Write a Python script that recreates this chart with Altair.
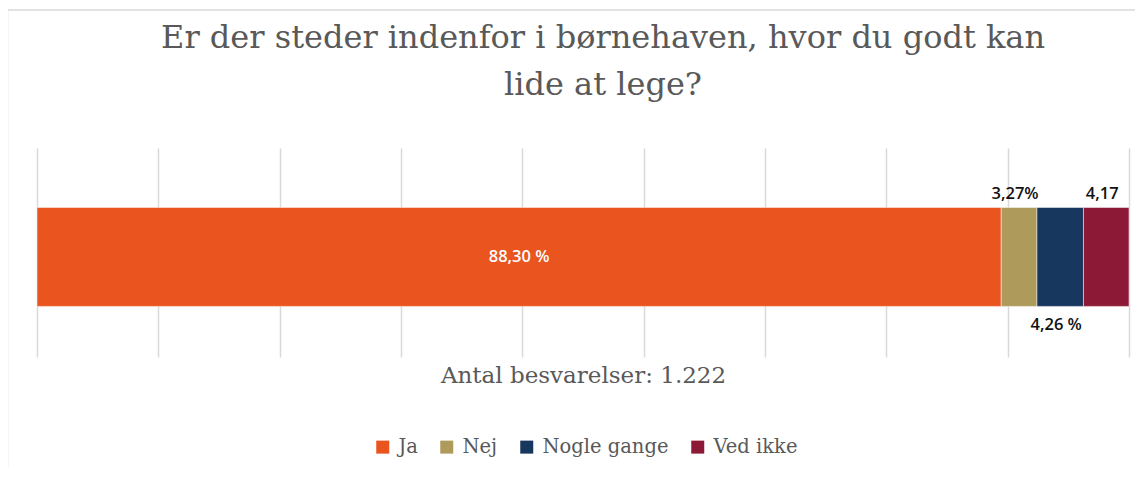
import altair as alt
import pandas as pd

categories = ["Ja", "Nej", "Nogle gange", "Ved ikke"]
values = [88.30, 3.27, 4.26, 4.17]
labels = ["88,30 %", "3,27%", "4,26 %", "4,17"]
label_pos = ["inside", "above", "below", "above"]
colors = ["#E9541F", "#AE9A5A", "#17375E", "#8C1A37"]
grid_values = [i / 9 for i in range(10)]

df = pd.DataFrame({"cat": categories, "value": values, "label": labels, "pos": label_pos})
df["q"] = "Q"
df["end"] = df["value"].cumsum() / 100.0
df["start"] = df["end"] - df["value"] / 100.0
df["mid"] = (df["start"] + df["end"]) / 2

SERIF = "DejaVu Serif"
SANS = "Open Sans"
GRAY = "#595959"

xscale = alt.Scale(domain=[0, 1], nice=False, zero=False)
yscale = alt.Scale(paddingInner=0, paddingOuter=0.556, align=0.54)

base = alt.Chart(df)

bars = base.mark_bar(stroke="white", strokeWidth=0.5).encode(
    x=alt.X("start:Q", scale=xscale,
            axis=alt.Axis(values=grid_values, labels=False, ticks=False, domain=False,
                          grid=True, gridColor="#d9d9d9", gridWidth=1.5,
                          title="Antal besvarelser: 1.222", titleFont=SERIF,
                          titleFontSize=23, titleFontWeight="normal", titleColor=GRAY,
                          titlePadding=7)),
    x2="end:Q",
    y=alt.Y("q:N", scale=yscale, axis=None),
    color=alt.Color("cat:N", scale=alt.Scale(domain=categories, range=colors),
                    sort=categories,
                    legend=alt.Legend(title=None, orient="none", direction="horizontal",
                                      legendX=336, legendY=289,
                                      symbolType="square", symbolSize=169,
                                      symbolStrokeWidth=0, labelFont=SERIF,
                                      labelFontSize=19.5, labelColor=GRAY,
                                      labelOffset=6, columnPadding=19, padding=0)),
)

txt = dict(font=SANS, fontSize=16.5, fontWeight=600)

inside = base.transform_filter(alt.datum.pos == "inside").mark_text(
    color="white", **txt
).encode(x=alt.X("mid:Q", scale=xscale), y=alt.Y("q:N", scale=yscale), text="label:N")

above = base.transform_filter(alt.datum.pos == "above").mark_text(
    color="#111111", dy=-63, dx=-4, **txt
).encode(x=alt.X("mid:Q", scale=xscale), y=alt.Y("q:N", scale=yscale), text="label:N")

below = base.transform_filter(alt.datum.pos == "below").mark_text(
    color="#111111", dy=68, dx=-4, **txt
).encode(x=alt.X("mid:Q", scale=xscale), y=alt.Y("q:N", scale=yscale), text="label:N")

frame_left = alt.Chart(pd.DataFrame({"a": [0]})).mark_rule(color="#d9d9d9", strokeWidth=1.5).encode(
    x=alt.value(-29.5), y=alt.value(-138), y2=alt.value(330))
frame_top = alt.Chart(pd.DataFrame({"a": [0]})).mark_rule(color="#d9d9d9", strokeWidth=1.5).encode(
    x=alt.value(-29.5), x2=alt.value(1200), y=alt.value(-138))

chart = alt.layer(frame_left, frame_top, bars, inside, above, below).properties(
    width=1092, height=209,
    autosize=alt.AutoSizeParams(type="none"),
    padding={"left": 29, "top": 140, "right": 6, "bottom": 110},
    title=alt.TitleParams(
        text=["Er der steder indenfor i børnehaven, hvor du godt kan", "lide at lege?"],
        font=SERIF, fontSize=32, fontWeight="normal", color=GRAY,
        anchor="middle", frame="group", dx=20, offset=-93, lineHeight=47),
).configure(background="white").configure_view(stroke=None)

chart.save("out.html", embed_options={"renderer": "svg", "actions": False})
